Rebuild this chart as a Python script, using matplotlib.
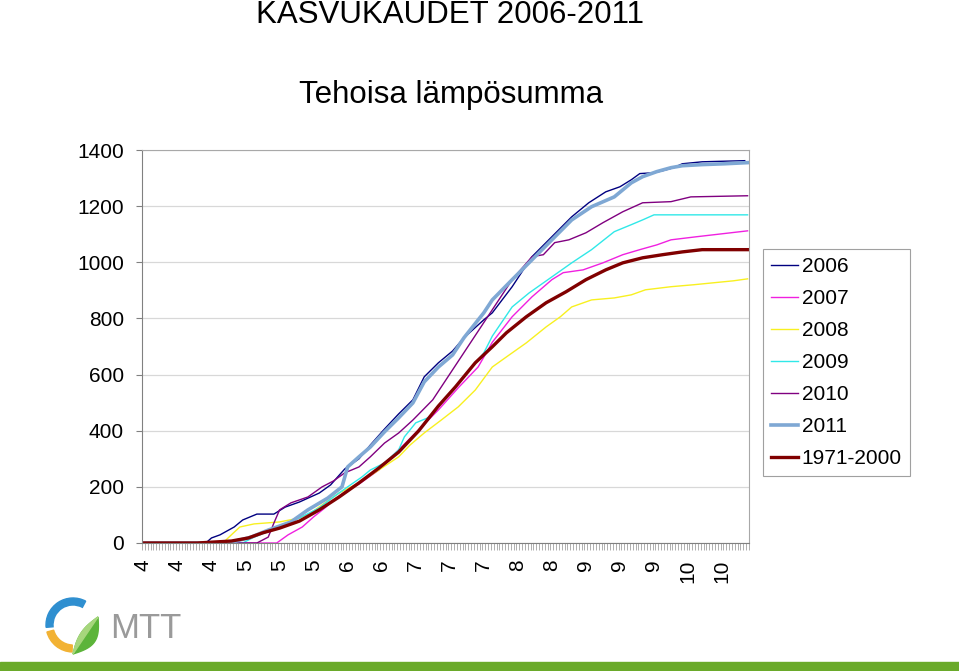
import numpy as np
import matplotlib
matplotlib.use('Agg')
import matplotlib.pyplot as plt
from matplotlib.patches import Wedge, Polygon, Rectangle

plt.rcParams['font.family'] = ['Liberation Sans', 'DejaVu Sans']

# Day index 0 = 1 April, 213 = 31 October
days_2006 = [0, 22, 24, 27, 32, 35, 40, 46, 50, 55, 62, 66, 71, 76, 80, 85, 90, 95, 99, 104,
             109, 113, 120, 123, 130, 137, 144, 151, 157, 163, 168, 172, 175, 180, 183, 187, 190, 197, 212]
vals_2006 = [0, 0, 18, 29, 57, 82, 103, 103, 128, 146, 178, 207, 264, 300, 349, 406, 460, 510, 592, 642,
             684, 731, 795, 820, 913, 1020, 1091, 1162, 1212, 1251, 1269, 1294, 1316, 1319, 1326, 1337, 1351, 1358, 1362]

days_2007 = [0, 47, 51, 56, 60, 64, 67, 72, 76, 83, 90, 97, 104, 111, 118, 123, 130, 137, 144, 148,
             155, 162, 169, 175, 181, 186, 195, 207, 213]
vals_2007 = [0, 0, 29, 57, 93, 125, 153, 189, 210, 260, 332, 403, 474, 553, 627, 715, 806, 877, 938, 963,
             973, 998, 1027, 1045, 1062, 1080, 1091, 1105, 1112]

days_2008 = [0, 28, 31, 34, 39, 48, 55, 59, 64, 69, 76, 83, 90, 94, 99, 105, 111, 117, 123, 128,
             135, 142, 147, 151, 158, 166, 172, 177, 186, 194, 201, 208, 213]
vals_2008 = [0, 0, 29, 57, 68, 75, 89, 107, 143, 178, 214, 260, 307, 349, 392, 438, 485, 545, 627, 663,
             713, 770, 806, 841, 866, 873, 884, 902, 913, 920, 927, 934, 941]

days_2009 = [0, 35, 39, 47, 55, 62, 67, 72, 77, 80, 85, 90, 92, 96, 101, 106, 113, 120, 123, 130,
             136, 144, 151, 158, 166, 172, 176, 180, 213]
vals_2009 = [0, 0, 21, 53, 89, 125, 164, 200, 235, 260, 285, 332, 378, 428, 449, 510, 592, 677, 737, 841,
             891, 948, 998, 1045, 1109, 1134, 1151, 1169, 1169]

days_2010 = [0, 40, 44, 46, 48, 52, 58, 63, 67, 71, 76, 80, 85, 90, 95, 102, 109, 116, 123, 130,
             137, 141, 145, 150, 156, 162, 169, 176, 186, 193, 213]
vals_2010 = [0, 0, 21, 71, 118, 143, 164, 200, 221, 250, 271, 307, 356, 392, 438, 510, 617, 724, 831, 938,
             1020, 1027, 1070, 1080, 1105, 1141, 1180, 1212, 1216, 1233, 1237]

days_2011 = [0, 30, 38, 44, 52, 58, 65, 70, 72, 76, 80, 85, 90, 95, 99, 104, 109, 113, 120, 123,
             130, 137, 144, 151, 158, 166, 172, 176, 181, 186, 190, 197, 205, 213]
vals_2011 = [0, 0, 21, 46, 75, 118, 160, 200, 271, 307, 342, 396, 446, 499, 574, 627, 670, 731, 820, 866,
             938, 1009, 1080, 1151, 1198, 1233, 1283, 1305, 1323, 1337, 1344, 1348, 1351, 1355]

days_ref = [0, 19, 31, 37, 42, 48, 55, 62, 69, 76, 83, 90, 97, 104, 110, 117, 123, 128, 135, 142,
            149, 156, 163, 169, 176, 183, 190, 197, 213]
vals_ref = [0, 0, 7, 18, 36, 53, 78, 118, 164, 214, 267, 324, 399, 488, 556, 642, 699, 749, 806, 856,
            895, 938, 973, 998, 1016, 1027, 1037, 1045, 1045]

# x labels: month number every 12th day
label_days = list(range(0, 214, 12))
label_months = ['4', '4', '4', '5', '5', '5', '6', '6', '7', '7', '7', '8', '8', '9', '9', '9', '10', '10']

W, H = 959, 671
fig = plt.figure(figsize=(W / 100, H / 100), dpi=100)
fig.patch.set_facecolor('white')

ax = fig.add_axes([142 / W, 1 - 543 / H, (749 - 142) / W, (543 - 150) / H])

series = [
    ('2006', days_2006, vals_2006, '#000080', 1.0),
    ('2007', days_2007, vals_2007, '#f020e0', 1.0),
    ('2008', days_2008, vals_2008, '#f8f020', 1.0),
    ('2009', days_2009, vals_2009, '#30e8e8', 1.0),
    ('2010', days_2010, vals_2010, '#800080', 1.0),
    ('2011', days_2011, vals_2011, '#7fa8d4', 2.6),
    ('1971-2000', days_ref, vals_ref, '#800000', 2.4),
]
for name, d, v, c, lw in series:
    ax.plot(d, v, color=c, lw=lw, label=name, solid_joinstyle='round')

ax.set_xlim(-0.5, 213.5)
ax.set_ylim(0, 1400)
ax.set_yticks(range(0, 1401, 200))
ax.yaxis.grid(True, color='#d8d8d8', lw=0.9)
ax.set_axisbelow(True)
ax.tick_params(axis='y', labelsize=15, length=4, color='#808080', pad=9)

ax.set_xticks(label_days)
ax.set_xticklabels(label_months, rotation=90, fontsize=15)
ax.set_xticks(np.arange(-0.5, 214, 1), minor=True)
ax.tick_params(axis='x', which='major', length=0, pad=12)
ax.tick_params(axis='x', which='minor', length=5, width=0.5, color='#909090')

for side in ['left', 'bottom']:
    ax.spines[side].set_color('#808080')
for side in ['top', 'right']:
    ax.spines[side].set_color('#a8a8a8')

leg = ax.legend(loc='upper left', bbox_to_anchor=(763 / W, 1 - 249 / H),
                bbox_transform=fig.transFigure, borderaxespad=0, fontsize=15,
                fancybox=False, framealpha=1, edgecolor='#a0a0a0',
                handlelength=1.3, handletextpad=0.15, labelspacing=0.62, borderpad=0.4)
leg.get_frame().set_linewidth(0.8)

fig.text(450 / W, 1 - 23 / H, 'KASVUKAUDET 2006-2011', fontsize=22.5, ha='center', va='baseline')
fig.text(451 / W, 1 - 103 / H, 'Tehoisa lämpösumma', fontsize=22.5, ha='center', va='baseline')

# MTT logo
lax = fig.add_axes([40 / W, 1 - 660 / H, 70 / W, 65 / H])
lax.set_xlim(0, 70)
lax.set_ylim(0, 65)
lax.set_aspect('equal')
lax.axis('off')
cx, cy = 33, 35
lax.add_patch(Wedge((cx, cy), 27, 62, 185, width=7, color='#2f8fd0'))
lax.add_patch(Wedge((cx, cy), 27, 195, 268, width=7, color='#f2b234'))
t = np.linspace(0, 1, 40)
p0 = np.array([cx + 0, cy - 29])
p1 = np.array([cx + 25, cy + 8])
line = p0[None, :] + (p1 - p0)[None, :] * t[:, None]
nrm = np.array([(p1 - p0)[1], -(p1 - p0)[0]])
nrm = nrm / np.linalg.norm(nrm)
outer = line + nrm[None, :] * (np.sin(np.pi * t) * 11)[:, None]
inner = line - nrm[None, :] * (np.sin(np.pi * t) * 5)[:, None]
lax.add_patch(Polygon(np.vstack([outer, inner[::-1]]), closed=True, color='#5cb43a'))
lax.add_patch(Polygon(np.vstack([line, inner[::-1]]), closed=True, color='#a6d67c'))
fig.text(110 / W, 1 - 638 / H, 'MTT', fontsize=25, color='#9a9a9a', ha='left', va='baseline',
         fontweight='light')

# green band at bottom
fig.add_artist(Rectangle((0, 0), 1, 9 / H, transform=fig.transFigure, color='#6aaa2a', zorder=0))

fig.savefig('out.png', dpi=100, facecolor='white')
